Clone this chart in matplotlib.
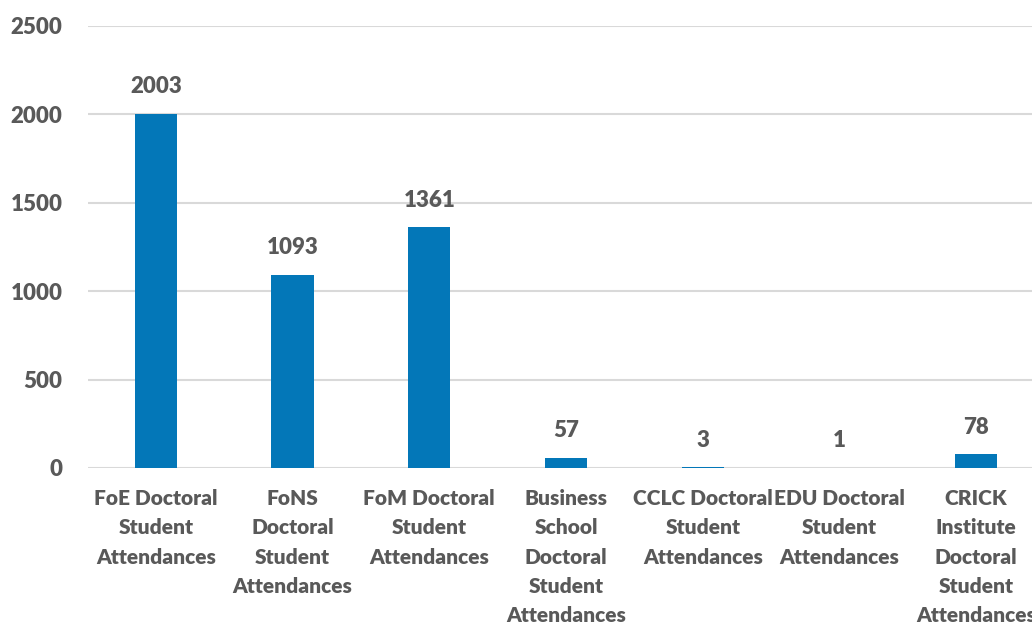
import matplotlib
matplotlib.use('Agg')
import matplotlib.pyplot as plt

categories = ['FoE Doctoral\nStudent\nAttendances',
              'FoNS\nDoctoral\nStudent\nAttendances',
              'FoM Doctoral\nStudent\nAttendances',
              'Business\nSchool\nDoctoral\nStudent\nAttendances',
              'CCLC Doctoral\nStudent\nAttendances',
              'EDU Doctoral\nStudent\nAttendances',
              'CRICK\nInstitute\nDoctoral\nStudent\nAttendances']
values = [2003, 1093, 1361, 57, 3, 1, 78]
yticks = [0, 500, 1000, 1500, 2000, 2500]

plt.rcParams['font.family'] = ['Lato', 'DejaVu Sans']
grey = '#595959'

fig = plt.figure(figsize=(10.32, 6.25), dpi=100)
ax = fig.add_axes([0.0848, 0.2512, 0.9273, 0.7072])
x = range(len(values))
ax.bar(x, values, width=0.31, color='#0377B8', zorder=3)
for xi, v in zip(x, values):
    ax.annotate(str(v), (xi, v), xytext=(0, 12), textcoords='offset points',
                ha='center', va='bottom', fontsize=16, fontweight='heavy', color=grey)

ax.set_xlim(-0.5, len(values) - 0.5)
ax.set_ylim(0, 2500)
ax.set_yticks(yticks)
ax.set_yticklabels([str(t) for t in yticks], fontsize=16, fontweight='heavy', color=grey)
ax.set_xticks(list(x))
ax.set_xticklabels(categories, fontsize=15, fontweight='heavy', color=grey, linespacing=1.65)
ax.tick_params(axis='y', length=0, pad=18)
ax.tick_params(axis='x', length=0, pad=15)
ax.grid(axis='y', color='#D9D9D9', linewidth=1.5, zorder=0)
for s in ax.spines.values():
    s.set_visible(False)

fig.savefig('out.png', dpi=100)
